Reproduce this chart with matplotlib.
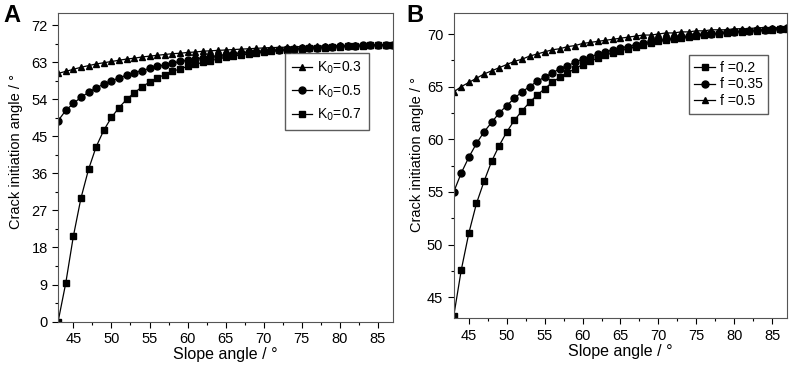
import matplotlib.pyplot as plt
from matplotlib.ticker import MultipleLocator

plt.rcParams['font.family'] = ['Liberation Sans', 'DejaVu Sans']

# Slope angle (x) shared by both panels
slope = list(range(43, 88))

# Panel A: lateral pressure coefficient K0
k0_03 = [60.3, 60.8, 61.3, 61.8, 62.2, 62.6, 62.9, 63.2, 63.5, 63.8, 64.0, 64.3, 64.5, 64.7, 64.9,
         65.1, 65.2, 65.4, 65.5, 65.7, 65.8, 65.9, 66.0, 66.1, 66.2, 66.3, 66.4, 66.5, 66.6, 66.6,
         66.7, 66.8, 66.8, 66.9, 66.9, 67.0, 67.0, 67.1, 67.1, 67.2, 67.2, 67.2, 67.3, 67.3, 67.3]
k0_05 = [48.8, 51.3, 53.0, 54.5, 55.7, 56.8, 57.7, 58.5, 59.2, 59.9, 60.5, 61.0, 61.5, 62.0, 62.4,
         62.8, 63.2, 63.5, 63.8, 64.1, 64.4, 64.6, 64.9, 65.1, 65.3, 65.5, 65.6, 65.8, 65.9, 66.1,
         66.2, 66.3, 66.4, 66.5, 66.6, 66.7, 66.8, 66.9, 66.9, 67.0, 67.1, 67.1, 67.2, 67.2, 67.3]
k0_07 = [0.0, 9.3, 20.7, 30.0, 37.0, 42.5, 46.5, 49.6, 52.0, 54.0, 55.6, 57.0, 58.2, 59.2, 60.0,
         60.8, 61.4, 62.0, 62.5, 63.0, 63.4, 63.8, 64.2, 64.5, 64.8, 65.0, 65.3, 65.5, 65.7, 65.9,
         66.0, 66.2, 66.3, 66.4, 66.5, 66.6, 66.7, 66.8, 66.9, 67.0, 67.0, 67.1, 67.1, 67.2, 67.2]

# Panel B: friction coefficient f
f_02 = [43.2, 47.6, 51.1, 53.9, 56.0, 57.9, 59.4, 60.7, 61.8, 62.7, 63.5, 64.2, 64.8, 65.4, 65.9,
        66.3, 66.7, 67.1, 67.4, 67.7, 68.0, 68.2, 68.4, 68.6, 68.8, 69.0, 69.1, 69.3, 69.4, 69.5,
        69.6, 69.7, 69.8, 69.9, 70.0, 70.0, 70.1, 70.2, 70.2, 70.3, 70.3, 70.4, 70.4, 70.5, 70.5]
f_035 = [55.0, 56.8, 58.3, 59.6, 60.7, 61.6, 62.5, 63.2, 63.9, 64.5, 65.0, 65.5, 65.9, 66.3, 66.7,
         67.0, 67.3, 67.6, 67.8, 68.1, 68.3, 68.5, 68.7, 68.8, 69.0, 69.1, 69.3, 69.4, 69.5, 69.6,
         69.7, 69.8, 69.9, 70.0, 70.0, 70.1, 70.2, 70.2, 70.3, 70.3, 70.4, 70.4, 70.5, 70.5, 70.6]
f_05 = [64.5, 65.0, 65.4, 65.8, 66.2, 66.5, 66.8, 67.1, 67.4, 67.6, 67.9, 68.1, 68.3, 68.5, 68.6,
        68.8, 68.9, 69.1, 69.2, 69.3, 69.4, 69.5, 69.6, 69.7, 69.8, 69.9, 69.9, 70.0, 70.1, 70.1,
        70.2, 70.2, 70.3, 70.3, 70.4, 70.4, 70.4, 70.5, 70.5, 70.5, 70.6, 70.6, 70.6, 70.6, 70.7]

fig = plt.figure(figsize=(7.96, 3.70), dpi=100)
ax1 = fig.add_axes([0.073, 0.131, 0.421, 0.834])
ax2 = fig.add_axes([0.570, 0.140, 0.419, 0.825])

estilo = dict(color='black', linewidth=0.9, markersize=5)

ax1.plot(slope, k0_03, marker='^', label='K$_0$=0.3', **estilo)
ax1.plot(slope, k0_05, marker='o', label='K$_0$=0.5', **estilo)
ax1.plot(slope, k0_07, marker='s', label='K$_0$=0.7', **estilo)
ax1.set_xlim(43, 87)
ax1.set_ylim(0, 75)
ax1.yaxis.set_major_locator(MultipleLocator(9))
ax1.yaxis.set_minor_locator(MultipleLocator(4.5))

ax2.plot(slope, f_02, marker='s', label='f =0.2', **estilo)
ax2.plot(slope, f_035, marker='o', label='f =0.35', **estilo)
ax2.plot(slope, f_05, marker='^', label='f =0.5', **estilo)
ax2.set_xlim(43, 87)
ax2.set_ylim(43, 72)
ax2.yaxis.set_major_locator(MultipleLocator(5))
ax2.yaxis.set_minor_locator(MultipleLocator(2.5))

for ax in (ax1, ax2):
    ax.xaxis.set_major_locator(MultipleLocator(5))
    ax.xaxis.set_minor_locator(MultipleLocator(2.5))
    ax.tick_params(which='major', length=4, width=0.8, labelsize=10.5)
    ax.tick_params(which='minor', length=2, width=0.8)
    ax.set_xlabel('Slope angle / °', fontsize=11.5, labelpad=1)
    ax.set_ylabel('Crack initiation angle / °', fontsize=10.5)
    for s in ax.spines.values():
        s.set_color('#555555')

ax1.yaxis.set_label_coords(-0.104, 0.55)
ax2.yaxis.set_label_coords(-0.089, 0.535)

ax1.legend(loc='upper right', bbox_to_anchor=(0.928, 0.87), frameon=True, fancybox=False,
           edgecolor='#333333', fontsize=10, handlelength=1.5, handletextpad=0.35,
           borderpad=0.5, labelspacing=0.5, borderaxespad=0)
ax2.legend(loc='upper right', bbox_to_anchor=(0.943, 0.862), frameon=True, fancybox=False,
           edgecolor='#333333', fontsize=10, handlelength=1.5, handletextpad=0.35,
           borderpad=0.4, labelspacing=0.2, borderaxespad=0)

fig.text(0.004, 0.99, 'A', fontsize=17, fontweight='bold', va='top')
fig.text(0.511, 0.99, 'B', fontsize=17, fontweight='bold', va='top')

fig.savefig('out.png', dpi=100)
